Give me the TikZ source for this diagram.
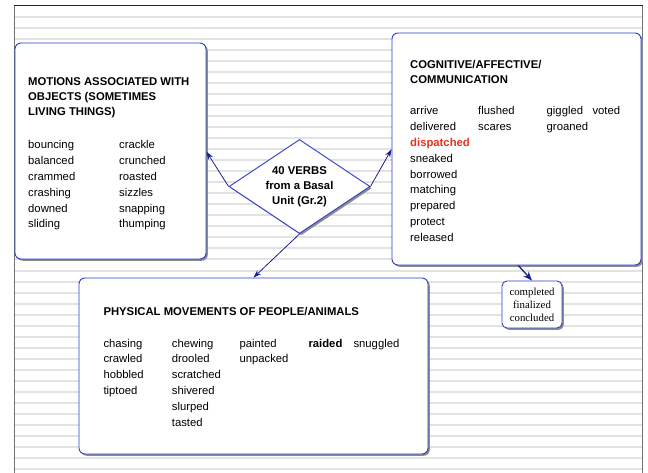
\documentclass[tikz,border=0pt]{standalone}
\usepackage{fontspec}
\setmainfont{Liberation Sans}
\newfontfamily\smserif{Liberation Serif}
\usetikzlibrary{arrows.meta,shapes.geometric,shadows}
\definecolor{boxblue}{RGB}{45,60,205}
\definecolor{arrnavy}{RGB}{25,35,140}
\definecolor{stripe}{RGB}{226,226,226}
\definecolor{dspred}{RGB}{232,50,30}
\newcommand\wcol[4]{\foreach \w [count=\k from 0] in {#4} {\node[word] (#3\k) at (#1,{#2+15.8*\k}) {\w};}}
\newcommand\dsp{\textbf{\color{dspred}dispatched}}
\begin{document}
\begin{tikzpicture}[x=1pt,y=-1pt,
  box/.style={draw=boxblue, line width=0.9pt, fill=white, rounded corners=6pt, inner sep=0pt,
    drop shadow={shadow xshift=1.8pt, shadow yshift=-1.8pt, fill=black!45, opacity=1}},
  word/.style={inner sep=0pt, anchor=base west, font=\fontsize{11.3}{15.8}\selectfont},
  ttl/.style={inner sep=0pt, anchor=base west, font=\fontsize{11.3}{15.8}\selectfont\bfseries},
  arr/.style={draw=arrnavy, line width=0.8pt, -{Stealth[length=8pt,width=5.5pt]}},
  framel/.style={draw=black!55, line width=1.5pt}]
\useasboundingbox (0,0) rectangle (648,473);
\fill[white] (0,0) rectangle (648,473);
\foreach \i in {0,...,41} \fill[stripe] (15,{16.5+11*\i}) rectangle (642,{18.5+11*\i});
\draw[framel] (14.5,473) -- (14.5,6);
\draw[framel] (642.5,473) -- (642.5,6);
\draw[black!85, line width=1pt] (13.75,6) -- (643.25,6);

% boxes
\node[box, minimum width=191pt, minimum height=216pt] (mot) at (110.5,151) {};
\node[box, minimum width=249pt, minimum height=232pt] (cog) at (516.5,149) {};
\node[box, minimum width=349pt, minimum height=176pt] (phy) at (253.5,366) {};
\node[box, rounded corners=5pt, minimum width=60pt, minimum height=47pt, align=center,
  font=\smserif\fontsize{10.8}{13}\selectfont] (sm) at (532,304.5) {completed\\finalized\\concluded};
\node[diamond, draw=boxblue, line width=0.9pt, fill=white, inner sep=0pt, aspect=1.5,
  minimum width=141pt, minimum height=94pt, align=center,
  font=\fontsize{11.3}{15}\selectfont\bfseries,
  drop shadow={shadow xshift=1.8pt, shadow yshift=-1.8pt, fill=black!45, opacity=1}]
  (dia) at (299.5,186.5) {40 VERBS\\from a Basal\\Unit (Gr.2)};

% left box text
\node[ttl] (mt1) at (28,86) {MOTIONS ASSOCIATED WITH};
\node[ttl] (mt2) at (28,101) {OBJECTS (SOMETIMES};
\node[ttl] (mt3) at (28,116) {LIVING THINGS)};
\wcol{28}{149}{ma}{bouncing,balanced,crammed,crashing,downed,sliding}
\wcol{119}{149}{mb}{crackle,crunched,roasted,sizzles,snapping,thumping}

% right box text
\node[ttl] (ct1) at (410,68.3) {COGNITIVE/AFFECTIVE/};
\node[ttl] (ct2) at (410,83.6) {COMMUNICATION};
\wcol{410}{115}{ca}{arrive,delivered,\dsp,sneaked,borrowed,matching,prepared,protect,released}
\wcol{478}{115}{cb}{flushed,scares}
\wcol{546.5}{115}{cc}{giggled,groaned}
\wcol{592.3}{115}{cd}{voted}

% bottom box text
\node[ttl] (pt1) at (103.3,315.3) {PHYSICAL MOVEMENTS OF PEOPLE/ANIMALS};
\wcol{103.3}{347}{pa}{chasing,crawled,hobbled,tiptoed}
\wcol{171.7}{347}{pb}{chewing,drooled,scratched,shivered,slurped,tasted}
\wcol{239.3}{347}{pc}{painted,unpacked}
\node[ttl] (pd0) at (308.3,347) {raided};
\wcol{353.3}{347}{pe}{snuggled}

% connectors
\coordinate (a1) at (0,151.7);
\coordinate (a2) at (0,149.3);
\coordinate (a3) at (253.5,0);
\coordinate (a4) at (518.3,0);
\draw[arr] (dia.west) -- (mot.east |- a1);
\draw[arr] (dia.east) -- (cog.west |- a2);
\draw[arr] (dia.south) -- (phy.north -| a3);
\draw[arr, line width=1.3pt, -{Stealth[length=9pt,width=7pt]}] (cog.south -| a4) -- (sm.north);
\end{tikzpicture}
\end{document}
